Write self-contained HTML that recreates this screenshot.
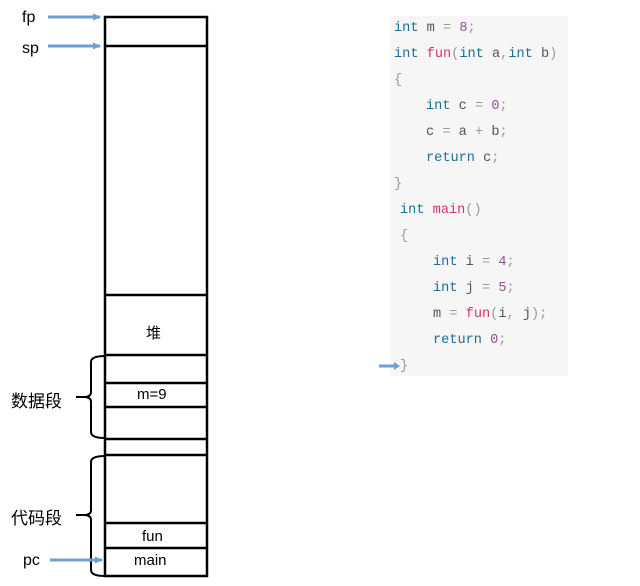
<!DOCTYPE html>
<html><head><meta charset="utf-8"><style>
body{margin:0;width:640px;height:586px;background:#fff;position:relative;overflow:hidden;font-family:"Liberation Sans","Noto Sans CJK SC",sans-serif}
.a{position:absolute}
.code{position:absolute;left:390px;top:16px;width:178px;height:360px;background:#f6f6f6}
.l{position:absolute;font-family:"Liberation Mono",monospace;font-size:13.6px;color:#555;white-space:pre;line-height:16px}
.k{color:#1a6f96}.f{color:#d6336c}.n{color:#905090}.p{color:#999}
</style></head><body>
<svg class="a" style="left:0;top:0" width="640" height="586">
<defs><marker id="ar" markerUnits="userSpaceOnUse" markerWidth="8" markerHeight="8" refX="7" refY="4" orient="auto"><path d="M0,0.5 L8,4 L0,7.5z" fill="#6f9fcf"/></marker></defs>
<g stroke="#000" stroke-width="2.5" fill="none">
<rect x="105" y="17" width="102" height="559"/>
<line x1="105" y1="46" x2="207" y2="46"/>
<line x1="105" y1="295" x2="207" y2="295"/>
<line x1="105" y1="355" x2="207" y2="355"/>
<line x1="105" y1="383" x2="207" y2="383"/>
<line x1="105" y1="407" x2="207" y2="407"/>
<line x1="105" y1="439" x2="207" y2="439"/>
<line x1="105" y1="455" x2="207" y2="455"/>
<line x1="105" y1="523" x2="207" y2="523"/>
<line x1="105" y1="548" x2="207" y2="548"/>
<path d="M105,356 Q91,356 91,362 L91,392 Q91,397 84,397 Q91,397 91,402 L91,432 Q91,438 105,438" stroke-width="2"/>
<path d="M105,456 Q91,456 91,462 L91,510 Q91,515 84,515 Q91,515 91,520 L91,570 Q91,576 105,576" stroke-width="2"/>
<line x1="76" y1="397" x2="85" y2="397" stroke-width="2"/>
<line x1="76" y1="515" x2="85" y2="515" stroke-width="2"/>
</g>
<g stroke="#6f9fcf" stroke-width="3">
<line x1="48" y1="17" x2="100" y2="17" marker-end="url(#ar)"/>
<line x1="48" y1="46" x2="100" y2="46" marker-end="url(#ar)"/>
<line x1="50" y1="560" x2="102" y2="560" marker-end="url(#ar)"/>
</g>
</svg>
<div class="a" style="left:22px;top:9px;font-size:16px">fp</div>
<div class="a" style="left:22px;top:40px;font-size:16px">sp</div>
<div class="a" style="left:23px;top:552px;font-size:16px">pc</div>
<div class="a" style="left:11px;top:387px;font-size:17px">数据段</div>
<div class="a" style="left:11px;top:504px;font-size:17px">代码段</div>
<div class="a" style="left:146px;top:322px;font-size:15px">堆</div>
<div class="a" style="left:137px;top:386px;font-size:15px">m=9</div>
<div class="a" style="left:142px;top:528px;font-size:15px">fun</div>
<div class="a" style="left:134px;top:552px;font-size:15px">main</div>
<div class="code"></div>
<div class="l" style="left:394px;top:21px"><span class="k">int</span> m <span class="p">=</span> <span class="n">8</span><span class="p">;</span></div>
<div class="l" style="left:394px;top:47px"><span class="k">int</span> <span class="f">fun</span><span class="p">(</span><span class="k">int</span> a<span class="p">,</span><span class="k">int</span> b<span class="p">)</span></div>
<div class="l p" style="left:394px;top:73px">{</div>
<div class="l" style="left:426px;top:99px"><span class="k">int</span> c <span class="p">=</span> <span class="n">0</span><span class="p">;</span></div>
<div class="l" style="left:426px;top:125px">c <span class="p">=</span> a <span class="p">+</span> b<span class="p">;</span></div>
<div class="l" style="left:426px;top:151px"><span class="k">return</span> c<span class="p">;</span></div>
<div class="l p" style="left:394px;top:177px">}</div>
<div class="l" style="left:400px;top:203px"><span class="k">int</span> <span class="f">main</span><span class="p">()</span></div>
<div class="l p" style="left:400px;top:229px">{</div>
<div class="l" style="left:433px;top:255px"><span class="k">int</span> i <span class="p">=</span> <span class="n">4</span><span class="p">;</span></div>
<div class="l" style="left:433px;top:281px"><span class="k">int</span> j <span class="p">=</span> <span class="n">5</span><span class="p">;</span></div>
<div class="l" style="left:433px;top:307px">m <span class="p">=</span> <span class="f">fun</span><span class="p">(</span>i<span class="p">,</span> j<span class="p">);</span></div>
<div class="l" style="left:433px;top:333px"><span class="k">return</span> <span class="n">0</span><span class="p">;</span></div>
<div class="l p" style="left:400px;top:359px">}</div>
<svg class="a" style="left:378px;top:360px" width="24" height="12"><line x1="1" y1="6" x2="18" y2="6" stroke="#6f9fcf" stroke-width="3"/><path d="M16,2 L22,6 L16,10z" fill="#6f9fcf"/></svg>
</body></html>
